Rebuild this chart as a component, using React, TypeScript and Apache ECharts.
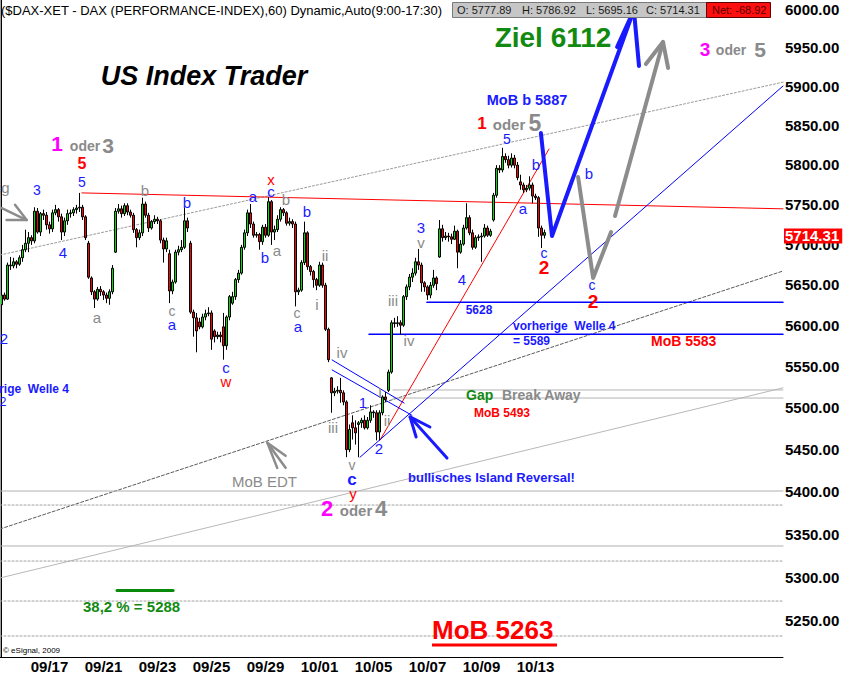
import React, { useEffect, useRef } from "react";
import * as echarts from "echarts";

// ---------- data ----------
const SLOT_COUNT = 261; // hourly slots on the time axis (data + empty projection area)
const dateLabels = ["09/17", "09/21", "09/23", "09/25", "09/29", "10/01", "10/05", "10/07", "10/09", "10/13"];
const dateLabelStart = 16;
const dateLabelStep = 18;
const priceTicks = [5250, 5300, 5350, 5400, 5450, 5500, 5550, 5600, 5650, 5700, 5750, 5800, 5850, 5900, 5950, 6000];
const priceMin = 5208.9;
const priceMax = 6011.8;

const opens = [
  5625, 5637, 5632, 5674, 5673, 5678, 5675, 5683, 5693, 5701,
  5708, 5704, 5741, 5715, 5738, 5736, 5724, 5719, 5739, 5743,
  5734, 5715, 5729, 5738, 5739, 5743, 5745, 5746, 5734, 5701,
  5658, 5641, 5632, 5644, 5641, 5637, 5633, 5641, 5690, 5741,
  5744, 5738, 5748, 5740, 5736, 5718, 5708, 5714, 5750, 5736,
  5720, 5728, 5731, 5729, 5705, 5694, 5688, 5642, 5653, 5690,
  5693, 5696, 5729, 5701, 5616, 5609, 5604, 5598, 5610, 5614,
  5615, 5593, 5586, 5588, 5598, 5575, 5610, 5627, 5635, 5656,
  5664, 5696, 5714, 5739, 5725, 5711, 5712, 5703, 5721, 5711,
  5753, 5715, 5718, 5731, 5743, 5739, 5726, 5728, 5725, 5641,
  5643, 5677, 5714, 5672, 5666, 5656, 5649, 5674, 5649, 5595,
  5536, 5518, 5520, 5521, 5518, 5507, 5450, 5482, 5476, 5480,
  5482, 5485, 5476, 5485, 5495, 5494, 5471, 5494, 5513, 5521,
  5543, 5603, 5602, 5603, 5600, 5635, 5647, 5659, 5664, 5678,
  5674, 5652, 5647, 5637, 5649, 5658, 5684, 5719, 5708, 5710,
  5709, 5706, 5716, 5690, 5700, 5720, 5733, 5714, 5696, 5708,
  5709, 5710, 5720, 5711, 5730, 5761, 5795, 5793, 5810, 5806,
  5799, 5808, 5799, 5777.89, 5774, 5768, 5770, 5774, 5760, 5758,
  5720, 5711,
];
const closes = [
  5637, 5632, 5674, 5673, 5678, 5675, 5683, 5693, 5701, 5708,
  5704, 5741, 5715, 5738, 5736, 5724, 5719, 5739, 5743, 5734,
  5715, 5729, 5738, 5739, 5743, 5745, 5746, 5734, 5708, 5659,
  5641, 5632, 5644, 5641, 5637, 5633, 5641, 5670, 5741, 5744,
  5738, 5748, 5740, 5736, 5718, 5708, 5714, 5750, 5736, 5720,
  5728, 5731, 5729, 5705, 5694, 5704, 5642, 5653, 5690, 5693,
  5696, 5729, 5720, 5616, 5609, 5593, 5598, 5610, 5614, 5615,
  5583, 5586, 5588, 5586, 5575, 5610, 5635, 5635, 5656, 5664,
  5696, 5714, 5739, 5725, 5711, 5712, 5703, 5721, 5711, 5753,
  5715, 5718, 5731, 5743, 5739, 5726, 5728, 5725, 5641, 5643,
  5677, 5714, 5672, 5666, 5656, 5649, 5674, 5649, 5595, 5558,
  5518, 5520, 5521, 5518, 5507, 5450, 5474, 5476, 5470, 5482,
  5485, 5476, 5485, 5495, 5494, 5471, 5494, 5513, 5510, 5543,
  5603, 5602, 5603, 5600, 5635, 5647, 5659, 5664, 5678, 5674,
  5652, 5647, 5637, 5649, 5658, 5651, 5719, 5708, 5710, 5709,
  5706, 5716, 5690, 5700, 5720, 5733, 5714, 5696, 5708, 5709,
  5710, 5720, 5711, 5716, 5761, 5795, 5793, 5810, 5806, 5799,
  5808, 5799, 5783.23, 5774, 5768, 5770, 5774, 5760, 5758, 5720,
  5711, 5714.31,
];
const lows = [
  5598, 5630, 5631, 5668, 5670, 5670, 5673, 5678, 5690, 5690,
  5699, 5701, 5713, 5710, 5730, 5718, 5713, 5715, 5736, 5728,
  5705, 5710, 5724, 5733, 5735, 5738, 5740, 5730, 5705, 5657,
  5637, 5621, 5630, 5636, 5631, 5627, 5625, 5638, 5689, 5738,
  5733, 5735, 5736, 5733, 5714, 5696, 5705, 5710, 5733, 5715,
  5718, 5725, 5725, 5701, 5677, 5690, 5627, 5638, 5651, 5686,
  5690, 5694, 5715, 5614, 5586, 5567, 5595, 5596, 5606, 5611,
  5570, 5579, 5583, 5579, 5558, 5570, 5606, 5625, 5631, 5652,
  5662, 5693, 5710, 5720, 5708, 5708, 5693, 5699, 5708, 5709,
  5699, 5705, 5715, 5728, 5735, 5723, 5723, 5720, 5623, 5637,
  5641, 5674, 5668, 5661, 5646, 5643, 5647, 5646, 5593, 5555,
  5494, 5514, 5517, 5506, 5503, 5441, 5447, 5462, 5456, 5441,
  5476, 5474, 5474, 5482, 5488, 5461, 5461, 5491, 5507, 5519,
  5541, 5597, 5598, 5588, 5598, 5631, 5643, 5653, 5661, 5668,
  5641, 5641, 5631, 5633, 5646, 5643, 5683, 5703, 5705, 5703,
  5700, 5705, 5670, 5688, 5698, 5718, 5711, 5693, 5694, 5704,
  5678, 5708, 5709, 5709, 5728, 5758, 5789, 5790, 5802, 5795,
  5796, 5795, 5780, 5768, 5764, 5765, 5767, 5751, 5755, 5709,
  5695.16, 5707,
];
const highs = [
  5641, 5640, 5677, 5684, 5683, 5680, 5686, 5699, 5718, 5715,
  5711, 5746, 5745, 5740, 5743, 5740, 5728, 5743, 5749, 5745,
  5738, 5733, 5743, 5743, 5746, 5749, 5764, 5749, 5736, 5704,
  5660, 5643, 5647, 5648, 5643, 5640, 5644, 5674, 5745, 5750,
  5748, 5751, 5751, 5743, 5739, 5720, 5718, 5758, 5753, 5739,
  5730, 5736, 5734, 5731, 5708, 5708, 5693, 5656, 5693, 5698,
  5705, 5745, 5733, 5704, 5619, 5615, 5609, 5614, 5619, 5622,
  5618, 5595, 5592, 5592, 5615, 5612, 5637, 5641, 5658, 5668,
  5699, 5718, 5743, 5750, 5728, 5715, 5714, 5724, 5725, 5759,
  5755, 5723, 5736, 5746, 5745, 5741, 5733, 5731, 5728, 5646,
  5680, 5728, 5716, 5674, 5668, 5658, 5678, 5677, 5652, 5597,
  5537, 5524, 5526, 5536, 5521, 5509, 5480, 5491, 5485, 5484,
  5488, 5491, 5489, 5503, 5497, 5497, 5497, 5515, 5519, 5546,
  5606, 5609, 5611, 5606, 5637, 5650, 5663, 5670, 5683, 5694,
  5677, 5654, 5649, 5653, 5668, 5660, 5730, 5724, 5715, 5714,
  5713, 5723, 5718, 5705, 5724, 5751, 5736, 5718, 5711, 5712,
  5714, 5725, 5723, 5719, 5764, 5799, 5799, 5821, 5814, 5811,
  5814, 5812, 5803, 5786.92, 5777, 5774, 5785, 5777, 5763, 5760,
  5723, 5718,
];

const dayOpen = 5777.89;
const dayHigh = 5786.92;
const dayLow = 5695.16;
const lastClose = 5714.31;
const dayNet = -68.92;

// trend lines / projections: [slot index, price]
const upperChannel = [[-0.5, 5686.4], [260.5, 5905]];
const lowerChannelDark = [[-0.5, 5356.4], [260.5, 5666.6]];
const lowerChannelLight = [[-0.5, 5299.5], [260.5, 5524]];
const resistance = [[26.8, 5764], [260.5, 5744]];
const redRising = [[126.2, 5461.5], [182.5, 5819.5]];
const blueRising = [[119.5, 5441], [260.5, 5900]];
const blueFalling1 = [[110.2, 5557.7], [134.2, 5505.7]];
const blueFalling2 = [[110.2, 5545.6], [136.8, 5491]];
const level5628 = [[141.8, 5628], [260.5, 5628]];
const level5589 = [[122.5, 5589], [260.5, 5589]];
const gapUpper = [[130.5, 5521.4], [260.5, 5521.4]];
const gapLower = [[130.5, 5511.7], [260.5, 5511.7]];
const solidLevels = [5401, 5336.6];
const dottedLevels = [5384.5, 5319.1, 5272.9, 5232.8];
const fibLevel = [[38.5, 5285], [57.2, 5285]];
const blueProjection = [[179.8, 5839.8], [183.5, 5710], [210.8, 5998.7]];
const blueArrowHead = [[205.2, 5950.5], [210.8, 5998.7], [212.5, 5925.8]];
const grayProjectionA = [[192.2, 5784], [197.2, 5658], [203.2, 5715]];
const grayProjectionB = [[204.5, 5735], [220.5, 5957]];
const grayArrowHead = [[214.8, 5928.4], [220.5, 5957], [222.2, 5923.3]];
const leftArrowShaft = [[0.1, 5745], [8.4, 5730]];
const leftArrowHead = [[4.5, 5749], [8.4, 5730], [1.7, 5730]];
const edtArrowShaft = [[88.6, 5458.3], [94.7, 5428.4]];
const edtArrowHead = [[94.7, 5442.6], [88.6, 5458.3], [91.9, 5428.4]];
const islandArrowShaft = [[136.2, 5489], [148.5, 5440]];
const islandArrowHead = [[142.8, 5477], [136.2, 5489], [138.2, 5465]];

// ---------- styling / layout ----------
const FONT = "'Liberation Sans', Arial, sans-serif";
const BLUE = "#1a1aff";
const GRAY = "#8a8a8a";
const RED = "#ff0000";
const MAGENTA = "#ff00ff";
const GREEN = "#128a12";

type Ann = [string, number, number, string, number, string?, string?, string?];
// text, x, y, color, size, weight, align, style
const annotations: Ann[] = [
  ["ig", -2, 187, GRAY, 15, "normal", "left"],
  ["3", 37, 190, BLUE, 14],
  ["5", 82, 182, BLUE, 14],
  ["5", 82, 163, RED, 16, "bold"],
  ["1", 57, 143, MAGENTA, 21, "bold"],
  ["oder", 85, 146, GRAY, 14, "bold"],
  ["3", 108, 145, GRAY, 21, "bold"],
  ["4", 63, 252, BLUE, 15],
  ["a", 97, 317, GRAY, 15],
  ["2", 4, 338, BLUE, 15],
  ["b", 145, 190, GRAY, 15],
  ["b", 187, 202, BLUE, 15],
  ["c", 172, 311, GRAY, 14],
  ["a", 172, 324, BLUE, 15],
  ["c", 226, 367, BLUE, 15],
  ["w", 226, 381, RED, 15],
  ["a", 253, 196, BLUE, 15],
  ["c", 271, 191, BLUE, 15],
  ["x", 271, 179, RED, 15],
  ["b", 286, 199, GRAY, 15],
  ["b", 265, 257, BLUE, 15],
  ["a", 277, 250, GRAY, 15],
  ["b", 307, 211, BLUE, 15],
  ["ii", 325, 255, GRAY, 15],
  ["i", 317, 304, GRAY, 15],
  ["c", 297, 313, GRAY, 14],
  ["a", 298, 326, BLUE, 15],
  ["iv", 342, 352, GRAY, 15],
  ["iii", 333, 427, GRAY, 15],
  ["v", 352, 465, GRAY, 14],
  ["c", 352, 479, BLUE, 17, "bold"],
  ["y", 353, 493, RED, 15],
  ["1", 363, 402, BLUE, 15],
  ["I", 380, 392, GRAY, 15],
  ["ii", 387, 420, GRAY, 15],
  ["2", 379, 448, BLUE, 15],
  ["iii", 393, 300, GRAY, 15],
  ["iv", 409, 340, GRAY, 15],
  ["3", 421, 227, BLUE, 15],
  ["v", 421, 242, GRAY, 15],
  ["4", 462, 279, BLUE, 15],
  ["5", 507, 139, BLUE, 14],
  ["b", 536, 164, BLUE, 15],
  ["a", 523, 208, BLUE, 15],
  ["c", 544, 253, BLUE, 14],
  ["2", 544, 267, RED, 19, "bold"],
  ["b", 589, 173, BLUE, 15],
  ["c", 592, 285, BLUE, 14],
  ["2", 593, 301, RED, 19, "bold"],
  ["1", 482, 123, RED, 17, "bold"],
  ["oder", 509, 124, GRAY, 15, "bold"],
  ["5", 535, 123, GRAY, 23, "bold"],
  ["MoB b 5887", 527, 100, BLUE, 14.5, "bold"],
  ["Ziel 6112", 553, 37, GREEN, 28, "bold"],
  ["3", 705, 49, MAGENTA, 19, "bold"],
  ["oder", 731, 50, GRAY, 14, "bold"],
  ["5", 760, 49, GRAY, 21, "bold"],
  ["US Index Trader", 204, 76, "#000", 27, "bold", "center", "italic"],
  ["5628", 479, 310, BLUE, 12, "bold"],
  ["vorherige  Welle 4", 513, 326, BLUE, 12, "bold", "left"],
  ["= 5589", 513, 341, BLUE, 12, "bold", "left"],
  ["MoB 5583", 651, 341, RED, 14, "bold", "left"],
  ["Gap", 466, 395, GREEN, 14, "bold", "left"],
  ["Break Away", 502, 395, GRAY, 14, "bold", "left"],
  ["MoB 5493", 474, 413, RED, 12, "bold", "left"],
  ["bullisches Island Reversal!", 408, 477, BLUE, 13, "bold", "left"],
  ["MoB EDT", 232, 481, GRAY, 15, "normal", "left"],
  ["2", 327, 508, MAGENTA, 22, "bold"],
  ["oder", 356, 510, GRAY, 15, "bold"],
  ["4", 381, 508, GRAY, 22, "bold"],
  ["vorherige  Welle 4", 69, 389, BLUE, 12, "bold", "right"],
  ["2", 3, 402, BLUE, 12],
  ["38,2 % = 5288", 83, 606, GREEN, 15, "bold", "left"],
  ["MoB 5263", 432, 630, RED, 26, "bold", "left"],
  ["\u00a9 eSignal, 2009", 3, 650, "#000", 8, "normal", "left"],
];

function seg(points: number[][], color: string, width: number, type: any = "solid", z = 3) {
  return {
    type: "line",
    xAxisIndex: 1,
    yAxisIndex: 0,
    data: points.map(([x, p]) => [x, Math.log(p)]),
    symbol: "none",
    silent: true,
    clip: true,
    lineStyle: { color, width, type, cap: "round", join: "round" },
    z,
  };
}

function txt(a: Ann) {
  const [text, x, y, fill, size, weight = "normal", align = "center", style = "normal"] = a;
  return {
    type: "text",
    x,
    y,
    silent: true,
    z: 50,
    style: {
      text,
      fill,
      font: `${style} ${weight} ${size}px ${FONT}`,
      textAlign: align,
      textVerticalAlign: "middle",
      align,
      verticalAlign: "middle",
    },
  };
}

function buildOption() {
  const cats = Array.from({ length: SLOT_COUNT }, (_, i) => String(i));
  const labelMap = new Map<number, string>();
  dateLabels.forEach((d, k) => labelMap.set(dateLabelStart + k * dateLabelStep, d));
  const candleData = opens.map((o, i) => [Math.log(o), Math.log(closes[i]), Math.log(lows[i]), Math.log(highs[i])]);

  const series: any[] = [
    seg(upperChannel, "#9a9a9a", 1, [2, 2], 1),
    seg(lowerChannelDark, "#5a5a5a", 1, [3, 2], 1),
    seg(lowerChannelLight, "#b8b8b8", 1, "solid", 1),
    ...solidLevels.map((p) => seg([[-0.5, p], [260.5, p]], "#b0b0b0", 1, "solid", 1)),
    ...dottedLevels.map((p) => seg([[-0.5, p], [260.5, p]], "#a0a0a0", 1, [2, 2], 1)),
    seg(gapUpper, "#b4b4b4", 1, "solid", 1),
    seg(gapLower, "#b4b4b4", 1, "solid", 1),
    seg(resistance, "#ff0000", 1, "solid", 1),
    seg(redRising, "#ff0000", 1, "solid", 1),
    seg(blueRising, "#0000ff", 1, "solid", 1),
    seg(blueFalling1, "#0000ff", 1, "solid", 1),
    seg(blueFalling2, "#0000ff", 1, "solid", 1),
    seg(level5628, "#0000ff", 1.5, "solid", 1),
    seg(level5589, "#0000ff", 1.5, "solid", 1),
    seg(fibLevel, "#0a8a0a", 3, "solid", 1),
    {
      type: "candlestick",
      xAxisIndex: 0,
      yAxisIndex: 0,
      data: candleData,
      barWidth: 2.8,
      z: 2,
      silent: true,
      itemStyle: {
        color: "#00e000",
        color0: "#ff0000",
        borderColor: "#000",
        borderColor0: "#000",
        borderWidth: 1,
      },
    },
    {
      type: "line",
      xAxisIndex: 1,
      yAxisIndex: 0,
      data: [],
      silent: true,
      z: 30,
      markLine: {
        silent: true,
        symbol: ["none", "none"],
        lineStyle: { color: "rgba(0,0,0,0)", width: 1 },
        z: 30,
        data: [{ yAxis: Math.log(lastClose) }],
        label: {
          show: true,
          position: "end",
          formatter: () => lastClose.toFixed(2),
          color: "#fff",
          backgroundColor: "#ff0000",
          fontWeight: "bold",
          fontSize: 15,
          fontFamily: FONT,
          padding: [0, 3, 0, 1],
          distance: 1,
        },
      },
    },
    seg(blueProjection, BLUE, 4, "solid", 5),
    seg(blueArrowHead, BLUE, 4, "solid", 5),
    seg(grayProjectionA, "#8c8c8c", 4, "solid", 4),
    seg(grayProjectionB, "#8c8c8c", 4, "solid", 4),
    seg(grayArrowHead, "#8c8c8c", 4, "solid", 4),
    seg(leftArrowShaft, "#8c8c8c", 2.5, "solid", 4),
    seg(leftArrowHead, "#8c8c8c", 2.5, "solid", 4),
    seg(edtArrowShaft, "#8c8c8c", 2.5, "solid", 4),
    seg(edtArrowHead, "#8c8c8c", 2.5, "solid", 4),
    seg(islandArrowShaft, BLUE, 3, "solid", 4),
    seg(islandArrowHead, BLUE, 3, "solid", 4),
  ];

  const graphic: any[] = [
    { type: "line", silent: true, z: 40, shape: { x1: 0.5, y1: 0, x2: 0.5, y2: 657 }, style: { stroke: "#a0a0a0", lineWidth: 1 } },
    {
      type: "text", x: 1, y: 10, silent: true, z: 60,
      style: { text: "($DAX-XET - DAX (PERFORMANCE-INDEX),60) Dynamic,Auto(9:00-17:30)", fill: "#000", font: `13px ${FONT}`, textVerticalAlign: "middle", verticalAlign: "middle" },
    },
    { type: "rect", silent: true, z: 60, shape: { x: 452.5, y: 2.5, width: 254, height: 15 }, style: { fill: "#c6c6c6", stroke: "#7a7a7a", lineWidth: 1 } },
    { type: "rect", silent: true, z: 61, shape: { x: 706.5, y: 2.5, width: 64, height: 15 }, style: { fill: "#ff1010", stroke: "#600000", lineWidth: 1 } },
    ...[
      [`O: ${dayOpen.toFixed(2)}`, 457],
      [`H: ${dayHigh.toFixed(2)}`, 522],
      [`L: ${dayLow.toFixed(2)}`, 586],
      [`C: ${lastClose.toFixed(2)}`, 646],
    ].map(([t, x]) => ({
      type: "text", x, y: 10, silent: true, z: 62,
      style: { text: t, fill: "#1a1a1a", font: `11px ${FONT}`, textVerticalAlign: "middle", verticalAlign: "middle" },
    })),
    {
      type: "text", x: 712, y: 10, silent: true, z: 62,
      style: { text: `Net: ${dayNet.toFixed(2)}`, fill: "#5a0000", font: `11px ${FONT}`, textVerticalAlign: "middle", verticalAlign: "middle" },
    },
    { type: "line", silent: true, z: 50, shape: { x1: 432, y1: 645, x2: 557, y2: 645 }, style: { stroke: RED, lineWidth: 3 } },
    ...annotations.map(txt),
  ];

  return {
    animation: false,
    backgroundColor: "#ffffff",
    grid: { left: 0, right: 62, top: 0, bottom: 19, containLabel: false, show: false },
    xAxis: [
      {
        type: "category",
        data: cats,
        boundaryGap: true,
        axisLine: { show: true, lineStyle: { color: "#000", width: 1 } },
        axisTick: { show: false },
        splitLine: { show: false },
        axisLabel: {
          interval: (i: number) => labelMap.has(i),
          formatter: (_v: string, i: number) => labelMap.get(i) || "",
          fontFamily: "'Liberation Sans Narrow', 'Liberation Sans', Arial, sans-serif",
          fontWeight: "bold",
          fontSize: 15,
          color: "#000",
          margin: 2,
        },
      },
      { type: "value", min: -0.5, max: SLOT_COUNT - 0.5, show: false },
    ],
    yAxis: [
      {
        type: "value",
        position: "right",
        min: Math.log(priceMin),
        max: Math.log(priceMax),
        axisLine: { show: true, lineStyle: { color: "#000", width: 1 } },
        axisTick: { show: false },
        splitLine: { show: false },
        axisLabel: {
          customValues: priceTicks.map((p) => Math.log(p)),
          formatter: (v: number) => Math.exp(v).toFixed(2),
          fontFamily: FONT,
          fontWeight: "bold",
          fontSize: 15,
          color: "#000",
          margin: 2,
        },
      },
    ],
    series,
    graphic,
  };
}

export default function App() {
  const ref = useRef<HTMLDivElement>(null);
  useEffect(() => {
    if (!ref.current) return;
    const chart = echarts.init(ref.current, undefined, { renderer: "svg" });
    chart.setOption(buildOption() as any);
    return () => chart.dispose();
  }, []);
  return <div ref={ref} style={{ position: "absolute", left: 0, top: 0, width: 845, height: 676, background: "#fff" }} />;
}
